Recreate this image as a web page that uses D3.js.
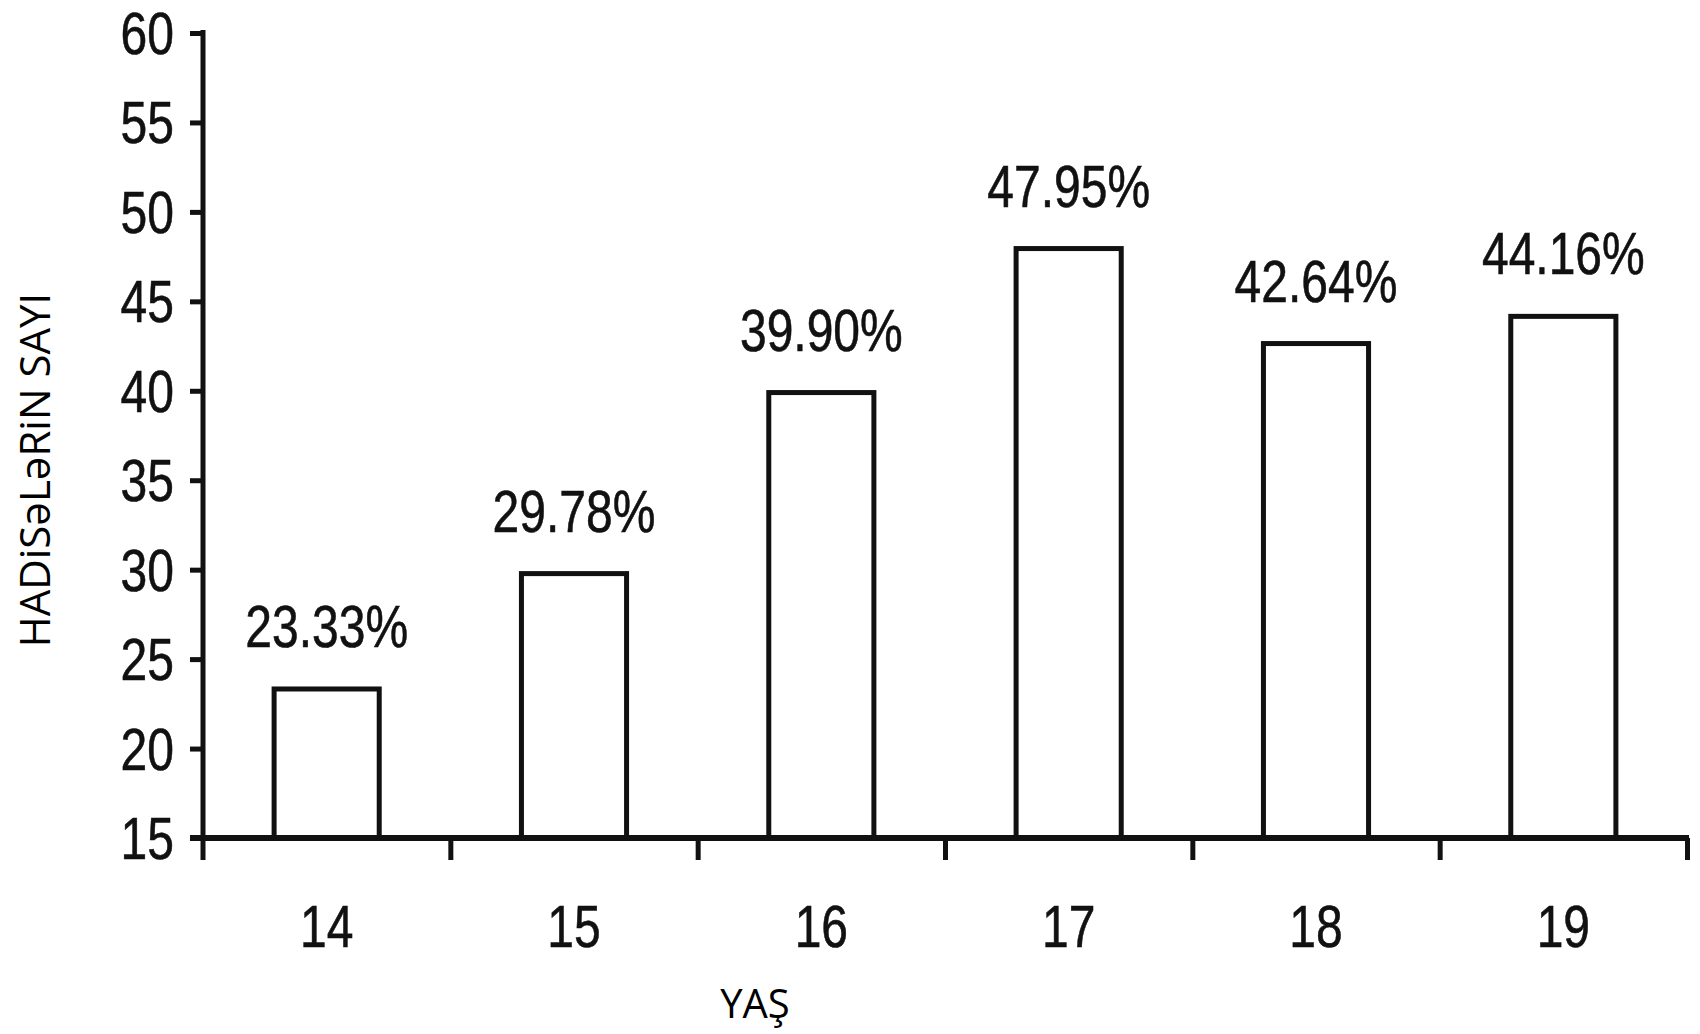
<!DOCTYPE html>
<html>
<head>
<meta charset="utf-8">
<script src="https://cdn.jsdelivr.net/npm/d3@7"></script>
<style>
    body { margin: 0; background: #fff; }
    svg { display: block; }
    .num { font-family: "Liberation Sans", Arial, sans-serif; font-size: 60px; fill: #111; stroke: #111; stroke-width: 0.6; }
    .title { font-family: "Open Sans", sans-serif; fill: #000; }
</style>
</head>
<body>
<script>
(function() {
    // data
    var ages = ["14", "15", "16", "17", "18", "19"];
    var values = [23.33, 29.78, 39.90, 47.95, 42.64, 44.16];
    var labels = ["23.33%", "29.78%", "39.90%", "47.95%", "42.64%", "44.16%"];
    var yTicks = [15, 20, 25, 30, 35, 40, 45, 50, 55, 60];

    // settings
    var settings = {};
    settings.width = 1700;
    settings.height = 1034;
    settings.left = 203;
    settings.right = 1687;
    settings.top = 33;
    settings.bottom = 838;
    settings.tickLen = 13;
    settings.squeeze = 0.8;

    var svg = d3.select("body").append("svg")
        .attr("width", settings.width)
        .attr("height", settings.height);

    var y = d3.scaleLinear()
        .domain([15, 60])
        .range([settings.bottom, settings.top]);

    var x = d3.scaleBand()
        .domain(ages)
        .range([settings.left, settings.right])
        .paddingInner(0.575)
        .paddingOuter(0.2875);

    // band boundaries for the x tick marks
    var edge = d3.scaleLinear()
        .domain([0, ages.length])
        .range([settings.left, settings.right]);

    // bars
    svg.selectAll(".bar")
        .data(values)
        .enter().append("rect")
        .attr("class", "bar")
        .attr("x", function(d, i) { return x(ages[i]); })
        .attr("y", function(d) { return y(d); })
        .attr("width", x.bandwidth())
        .attr("height", function(d) { return y(15) - y(d); })
        .attr("fill", "#fff")
        .attr("stroke", "#111")
        .attr("stroke-width", 5);

    // y axis
    var yAxis = svg.append("g")
        .attr("transform", "translate(" + settings.left + ",0)")
        .call(d3.axisLeft(y).tickValues(yTicks).tickSize(settings.tickLen).tickSizeOuter(0).tickFormat(""));
    yAxis.select(".domain").remove();
    yAxis.selectAll(".tick line").attr("stroke", "#111").attr("stroke-width", 5);
    yAxis.append("line")
        .attr("y1", y(60) - 3)
        .attr("y2", y(15) + 22)
        .attr("stroke", "#111")
        .attr("stroke-width", 5);

    // x axis
    var xAxis = svg.append("g")
        .attr("transform", "translate(0," + settings.bottom + ")")
        .call(d3.axisBottom(edge).tickValues(d3.range(1, ages.length + 1)).tickSize(22).tickFormat(""));
    xAxis.select(".domain").remove();
    xAxis.selectAll(".tick line").attr("stroke", "#111").attr("stroke-width", 5);
    xAxis.append("line")
        .attr("x1", edge(0) - settings.tickLen)
        .attr("x2", edge(ages.length) + 2)
        .attr("stroke", "#111")
        .attr("stroke-width", 6);

    // y tick labels
    svg.selectAll(".ylab")
        .data(yTicks)
        .enter().append("text")
        .attr("class", "num ylab")
        .attr("text-anchor", "end")
        .attr("transform", function(d) {
            return "translate(" + (settings.left - settings.tickLen - 16) + "," + (y(d) + 21) + ") scale(" + settings.squeeze + ",1)";
        })
        .text(function(d) { return d; });

    // x tick labels
    svg.selectAll(".xlab")
        .data(ages)
        .enter().append("text")
        .attr("class", "num xlab")
        .attr("text-anchor", "middle")
        .attr("transform", function(d) {
            return "translate(" + (x(d) + x.bandwidth() / 2) + "," + (settings.bottom + 109) + ") scale(" + settings.squeeze + ",1)";
        })
        .text(function(d) { return d; });

    // value labels
    svg.selectAll(".vlab")
        .data(values)
        .enter().append("text")
        .attr("class", "num vlab")
        .attr("text-anchor", "middle")
        .attr("transform", function(d, i) {
            return "translate(" + (x(ages[i]) + x.bandwidth() / 2) + "," + (y(d) - 42) + ") scale(" + settings.squeeze + ",1)";
        })
        .text(function(d, i) { return labels[i]; });

    // axis titles
    svg.append("text")
        .attr("class", "title")
        .attr("text-anchor", "middle")
        .attr("font-size", 40)
        .attr("x", 755)
        .attr("y", 1018)
        .text("YAŞ");

    svg.append("text")
        .attr("class", "title")
        .attr("text-anchor", "middle")
        .attr("font-size", 42)
        .attr("transform", "translate(50,470) rotate(-90)")
        .text("HADiSəLəRiN SAYI");
})();
</script>
</body>
</html>
